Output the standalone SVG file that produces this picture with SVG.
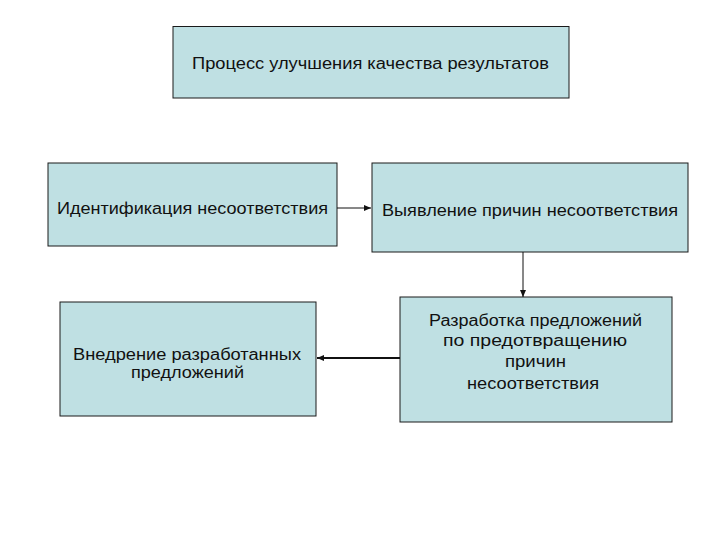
<svg xmlns="http://www.w3.org/2000/svg" width="720" height="540" viewBox="0 0 720 540">
<style>
.box{fill:#bfe0e3;stroke:#1a1a1a;stroke-width:1}
text{font-family:"Liberation Sans",Arial,sans-serif;font-size:16px;fill:#111;text-anchor:middle}
.c{stroke:#111;fill:none}
</style>
<defs>
<marker id="ah" markerWidth="8" markerHeight="8" refX="7" refY="4" orient="auto" markerUnits="userSpaceOnUse">
<path d="M0,1 L7,4 L0,7 z" fill="#111"/>
</marker>
</defs>
<rect width="720" height="540" fill="#fff"/>
<g id="n1"><rect class="box" x="173" y="26.5" width="396" height="71.5"/><text x="370.5" y="69" textLength="357" lengthAdjust="spacingAndGlyphs">Процесс улучшения качества результатов</text></g>
<g id="n2"><rect class="box" x="48" y="163" width="289" height="83"/><text x="192.5" y="214" textLength="271" lengthAdjust="spacingAndGlyphs">Идентификация несоответствия</text></g>
<g id="n3"><rect class="box" x="372" y="163" width="316" height="89"/><text x="530" y="216" textLength="296" lengthAdjust="spacingAndGlyphs">Выявление причин несоответствия</text></g>
<g id="n4"><rect class="box" x="60" y="302" width="256" height="114"/><text x="187" y="360" textLength="228" lengthAdjust="spacingAndGlyphs">Внедрение разработанных</text><text x="187.5" y="378" textLength="113" lengthAdjust="spacingAndGlyphs">предложений</text></g>
<g id="n5"><rect class="box" x="400" y="297" width="272" height="125"/><text x="535.5" y="326" textLength="213" lengthAdjust="spacingAndGlyphs">Разработка предложений</text><text x="535" y="346" textLength="184" lengthAdjust="spacingAndGlyphs">по предотвращению</text><text x="535.5" y="367" textLength="61" lengthAdjust="spacingAndGlyphs">причин</text><text x="533" y="389" textLength="132" lengthAdjust="spacingAndGlyphs">несоответствия</text></g>
<g id="connectors">
<line class="c" x1="337" y1="208" x2="371" y2="208" marker-end="url(#ah)"/>
<line class="c" x1="523" y1="252" x2="523" y2="297" marker-end="url(#ah)"/>
<line class="c" x1="400" y1="358" x2="317" y2="358" stroke-width="2" marker-end="url(#ah)"/>
</g>
</svg>
